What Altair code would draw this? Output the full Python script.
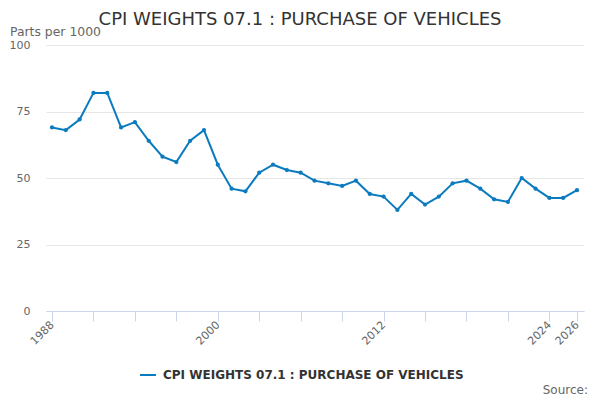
import altair as alt
import pandas as pd

years = list(range(1988, 2027))
values = [69, 68, 72, 82, 82, 69, 71, 64, 58, 56, 64, 68, 55, 46, 45, 52, 55, 53, 52,
          49, 48, 47, 49, 44, 43, 38, 44, 40, 43, 48, 49, 46, 42, 41, 50, 46, 42.5, 42.5, 45.4]
series_name = "CPI WEIGHTS 07.1 : PURCHASE OF VEHICLES"
tick_years = [1988, 1991, 1994, 1997, 2000, 2003, 2006, 2009, 2012, 2015, 2018, 2021, 2024, 2026]
label_years = [1988, 2000, 2012, 2024, 2026]
y_ticks = [0, 25, 50, 75, 100]

df = pd.DataFrame({"year": years, "value": values, "series": series_name})

W, H = 538, 266
COLOR = "#0b7bbf"
FONT = "DejaVu Sans"

label_test = " || ".join(f"datum.value == {y}" for y in label_years)

x = alt.X("year:Q",
          scale=alt.Scale(domain=[1987.566, 2026.507], nice=False, zero=False),
          axis=alt.Axis(values=tick_years, labelExpr=f"({label_test}) ? datum.label : ''",
                        format="d", title=None, grid=False, domainColor="#ccd6eb",
                        tickColor="#ccd6eb", tickSize=10, labelAngle=315, labelAlign="right",
                        labelBaseline="middle", labelPadding=2, labelColor="#666666",
                        labelFontSize=11, labelFont=FONT, labelFlush=False, labelOverlap=False))
y = alt.Y("value:Q",
          scale=alt.Scale(domain=[0, 100], nice=False),
          axis=alt.Axis(values=y_ticks, title=None, domain=False, ticks=False,
                        gridColor="#e6e6e6", labelColor="#666666", labelFontSize=11,
                        labelFont=FONT, labelPadding=16))
color = alt.Color("series:N", scale=alt.Scale(range=[COLOR]),
                  legend=alt.Legend(title=None, orient="none", legendX=93, legendY=321,
                                    symbolType="stroke", symbolStrokeWidth=2, symbolSize=256,
                                    labelFont=FONT, labelFontSize=12, labelFontWeight="bold",
                                    labelColor="#333333", labelLimit=600, padding=0,
                                    labelOffset=6))

line = alt.Chart(df).mark_line(strokeWidth=2).encode(x=x, y=y, color=color)
pts = alt.Chart(df).mark_point(filled=True, size=18, opacity=1).encode(x=x, y=y, color=color)

title_df = pd.DataFrame({"t": [series_name]})
title = alt.Chart(title_df).mark_text(font=FONT, fontSize=18, color="#333333",
                                      align="center", baseline="alphabetic").encode(
    text="t:N", x=alt.value(254), y=alt.value(-20))
unit = alt.Chart(pd.DataFrame({"t": ["Parts per 1000"]})).mark_text(
    font=FONT, fontSize=12.4, color="#666666", align="left", baseline="alphabetic").encode(
    text="t:N", x=alt.value(-36), y=alt.value(-9))
source = alt.Chart(pd.DataFrame({"t": ["Source:"]})).mark_text(
    font=FONT, fontSize=12, color="#666666", align="right", baseline="alphabetic").encode(
    text="t:N", x=alt.value(542), y=alt.value(349))

chart = alt.layer(line, pts, title, unit, source).properties(
    width=W, height=H,
    autosize=alt.AutoSizeParams(type="none"),
    padding={"left": 38, "top": 37, "right": 8, "bottom": 92},
).configure(font=FONT).configure_view(stroke=None)

chart.save("out.html", embed_options={"renderer": "svg", "actions": False})
